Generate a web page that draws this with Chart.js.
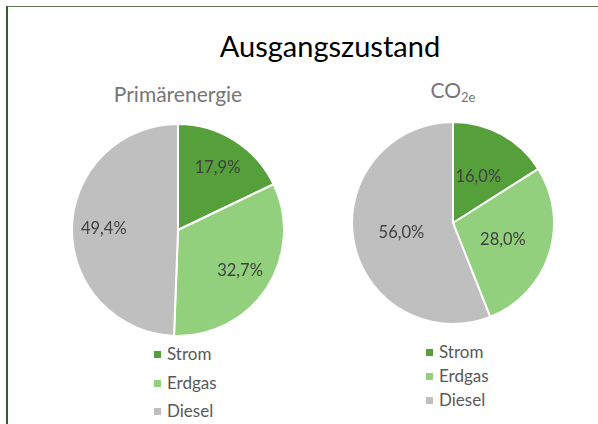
<!DOCTYPE html>
<html>
<head>
<meta charset="utf-8">
<script src="https://cdn.jsdelivr.net/npm/chart.js@4/dist/chart.umd.min.js"></script>
<style>
  body { margin: 0; background: #fff; font-family: Lato, "Noto Sans", sans-serif; }
  #frame { position: absolute; left: 6px; top: 6px; width: 600px; height: 430px;
           border-top: 1px solid #5d7a53; border-left: 2px solid #3a5a2c; }
  .abs { position: absolute; }
  #title { left: 0; width: 660px; top: 28px; text-align: center; font-size: 29px; color: #000; }
  .sub { font-size: 21px; color: #767676; text-align: center; width: 240px; }
  .sub sub { font-size: 13px; vertical-align: -4px; }
  .legend { font-size: 17px; color: #595959; }
  .legend div { position: absolute; white-space: nowrap; }
  .legend span { display: inline-block; width: 7px; height: 7px; margin-right: 6px; vertical-align: 2px; }
</style>
</head>
<body>
<div id="frame"></div>
<div id="title" class="abs">Ausgangszustand</div>
<div class="abs sub" style="left:58px; top:81px;">Primärenergie</div>
<div class="abs sub" style="left:333px; top:77px;">CO<sub>2e</sub></div>

<canvas id="pie1" class="abs" width="214" height="214" style="left:71px; top:123px;"></canvas>
<canvas id="pie2" class="abs" width="204" height="204" style="left:351px; top:121px;"></canvas>

<div id="legend1" class="abs legend" style="left:154px; top:343px;"></div>
<div id="legend2" class="abs legend" style="left:426px; top:341px;"></div>

<script>
var categories = ['Strom', 'Erdgas', 'Diesel'];
var primaerenergie = [17.9, 32.7, 49.4];
var co2e = [16.0, 28.0, 56.0];
var colors = ['#55a03a', '#92d07e', '#bfbfbf'];

// draws the percent labels inside the slices
var sliceLabels = {
  id: 'sliceLabels',
  afterDatasetsDraw: function(chart, args, opts) {
    var ctx = chart.ctx;
    var data = chart.data.datasets[0].data;
    ctx.save();
    ctx.font = '16.5px Lato, "Noto Sans", sans-serif';
    ctx.fillStyle = '#404040';
    ctx.textAlign = 'center';
    ctx.textBaseline = 'middle';
    chart.getDatasetMeta(0).data.forEach(function(arc, i) {
      var p = arc.getProps(['x', 'y', 'startAngle', 'endAngle', 'outerRadius'], true);
      var mid = (p.startAngle + p.endAngle) / 2;
      var r = p.outerRadius * opts.ratio;
      var txt = data[i].toFixed(1).replace('.', ',') + '%';
      ctx.fillText(txt, p.x + Math.cos(mid) * r, p.y + Math.sin(mid) * r);
    });
    ctx.restore();
  }
};

function makePie(id, values, ratio) {
  return new Chart(document.getElementById(id), {
    type: 'pie',
    data: {
      labels: categories,
      datasets: [{ data: values, backgroundColor: colors, borderColor: '#fff', borderWidth: 2 }]
    },
    options: {
      responsive: false,
      animation: false,
      layout: { padding: 0 },
      plugins: {
        legend: { display: false },
        tooltip: { enabled: false },
        sliceLabels: { ratio: ratio }
      }
    },
    plugins: [sliceLabels]
  });
}

function makeLegend(id, step) {
  var box = document.getElementById(id);
  categories.forEach(function(c, i) {
    var row = document.createElement('div');
    row.style.top = (i * step) + 'px';
    row.innerHTML = '<span style="background:' + colors[i] + '"></span>' + c;
    box.appendChild(row);
  });
}

makePie('pie1', primaerenergie, 0.7);
makePie('pie2', co2e, 0.52);
makeLegend('legend1', 28.5);
makeLegend('legend2', 24);
</script>
</body>
</html>
